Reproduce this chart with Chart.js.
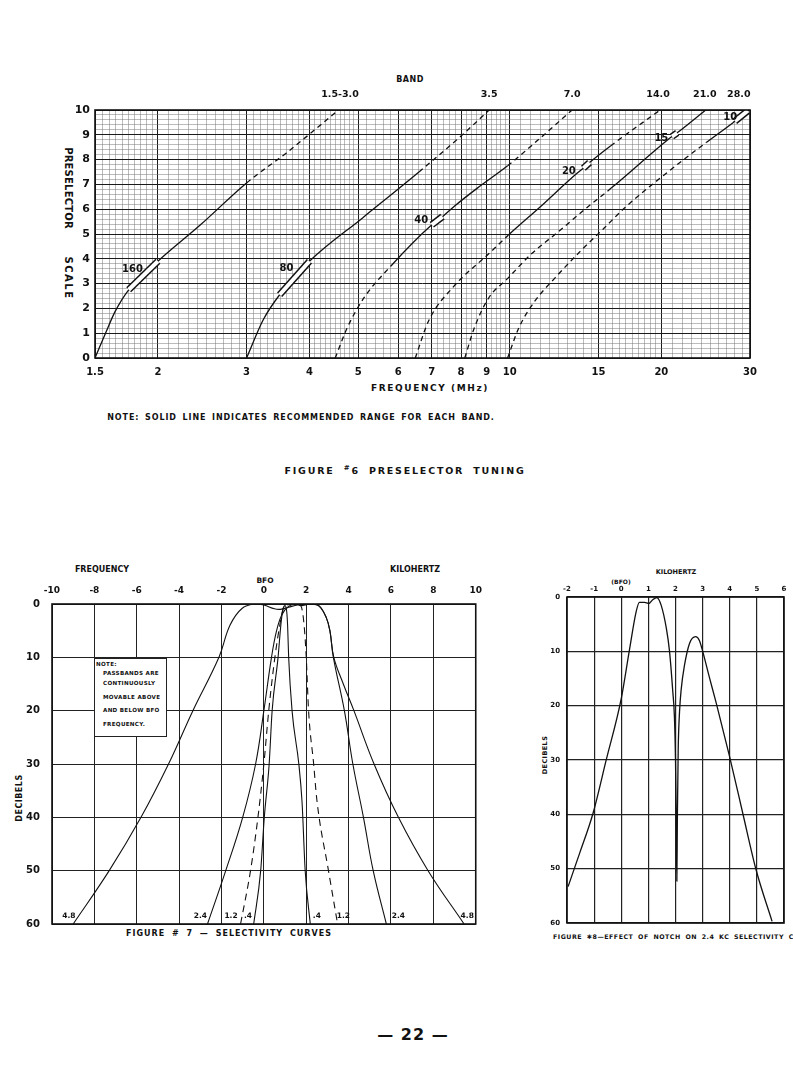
<!DOCTYPE html>
<html>
<head>
<meta charset="utf-8">
<script src="https://cdn.jsdelivr.net/npm/chart.js@4.4.0/dist/chart.umd.min.js"></script>
<style>
  html, body { margin: 0; padding: 0; background: #fff; }
  body { width: 793px; height: 1083px; position: relative; overflow: hidden;
         font-family: 'DejaVu Sans', sans-serif; font-weight: bold; color: #111; }
  canvas { position: absolute; }
  .t { position: absolute; white-space: nowrap; transform: translate(-50%, -50%); line-height: 1; }
  .v { position: absolute; white-space: nowrap; writing-mode: vertical-rl; transform: translate(-50%, -50%); line-height: 1; }
  .up { position: absolute; white-space: nowrap; transform: translate(-50%, -50%) rotate(-90deg); line-height: 1; }
  .note { position: absolute; left: 94px; top: 658px; width: 73px; height: 79px; box-sizing: border-box;
          border: 1px solid #222; background: #fff; font-size: 5.6px; }
  .note div { position: absolute; white-space: nowrap; letter-spacing: 0.3px; }
</style>
</head>
<body>

<div class="t" style="left:410px; top:80px; font-size:8px; letter-spacing:0.5px;">BAND</div>
<div class="v" style="left:68px; top:188px; font-size:10px; letter-spacing:0.2px;">PRESELECTOR</div>
<div class="v" style="left:68px; top:278px; font-size:10px; letter-spacing:1.5px;">SCALE</div>
<div class="t" style="left:430px; top:388px; font-size:9px; letter-spacing:1.6px;">FREQUENCY (MHz)</div>
<div class="t" style="left:301px; top:418px; font-size:8px; letter-spacing:0.9px; word-spacing:2px;">NOTE: SOLID LINE INDICATES RECOMMENDED RANGE FOR EACH BAND.</div>
<div class="t" style="left:405px; top:470px; font-size:9.5px; letter-spacing:1.8px; word-spacing:4px;">FIGURE <sup style="font-size:7px;">#</sup>6 PRESELECTOR TUNING</div>
<canvas id="chartPreselector" width="793" height="350" style="left:0; top:60px;"></canvas>

<div class="t" style="left:102px; top:570px; font-size:8px;">FREQUENCY</div>
<div class="t" style="left:415px; top:570px; font-size:8px;">KILOHERTZ</div>
<div class="t" style="left:265px; top:581px; font-size:7.5px;">BFO</div>
<div class="up" style="left:20px; top:798px; font-size:8px; letter-spacing:0.5px;">DECIBELS</div>
<div class="t" style="left:229px; top:934px; font-size:8px; letter-spacing:1px; word-spacing:3px;">FIGURE # 7 &mdash; SELECTIVITY CURVES</div>
<canvas id="chartSelectividade" width="490" height="390" style="left:0; top:560px;"></canvas>
<div class="note">
  <div style="left:1px; top:2px;">NOTE:</div>
  <div style="left:8px; top:11px;">PASSBANDS ARE</div>
  <div style="left:8px; top:21px;">CONTINUOUSLY</div>
  <div style="left:8px; top:35px;">MOVABLE ABOVE</div>
  <div style="left:8px; top:48px;">AND BELOW BFO</div>
  <div style="left:8px; top:62px;">FREQUENCY.</div>
</div>

<div class="t" style="left:676px; top:572px; font-size:6.5px;">KILOHERTZ</div>
<div class="t" style="left:621px; top:582px; font-size:6px;">(BFO)</div>
<div class="up" style="left:545px; top:755px; font-size:6.5px; letter-spacing:0.4px;">DECIBELS</div>
<div style="position:absolute; left:553px; top:934px; white-space:nowrap; font-size:6.3px; letter-spacing:0.5px; word-spacing:2px; line-height:1;">FIGURE &#x2731;8&mdash;EFFECT OF NOTCH ON 2.4 KC SELECTIVITY CURVE</div>
<canvas id="chartNotch" width="303" height="390" style="left:490px; top:560px;"></canvas>

<div class="t" style="left:413px; top:1035px; font-size:16px; letter-spacing:1px;">&mdash; 22 &mdash;</div>

<script>
// ---- figure 6: preselector tuning (frequency MHz / scale) ----
var band160F = [1.5, 1.58, 1.645, 1.75, 2.0, 2.43, 3.0, 3.6, 4.57];
var band160S = [0, 1.08, 1.88, 2.75, 3.9, 5.37, 7.06, 8.27, 10];
var band80F = [3.0, 3.24, 3.49, 4.0, 5.1, 6.6, 8.0, 9.1];
var band80S = [0, 1.55, 2.55, 3.9, 5.65, 7.5, 8.95, 10];
var band40F = [4.5, 4.75, 5.13, 5.8, 7.0, 7.35, 7.74, 8.62, 9.9, 11.1, 13.3];
var band40S = [0, 1.2, 2.42, 3.7, 5.37, 5.7, 6.1, 6.85, 7.75, 8.6, 10];
var band20F = [6.49, 6.9, 7.74, 9.08, 9.93, 11.5, 13.6, 14.0, 14.4, 15.85, 19.9];
var band20S = [0, 1.5, 2.89, 4.2, 4.95, 6.1, 7.45, 7.65, 7.88, 8.55, 10];
var band15F = [8.14, 8.5, 9.08, 9.93, 11.0, 12.5, 14.2, 15.9, 20.6, 21.0, 21.5, 24.5];
var band15S = [0, 1.21, 2.42, 3.23, 4.17, 5.1, 6.05, 6.85, 8.8, 8.93, 9.08, 10];
var band10F = [9.9, 10.42, 11.2, 12.3, 13.8, 15.4, 16.9, 20.6, 24.6, 27.8, 28.0, 29.7, 29.8];
var band10S = [0, 1.21, 2.28, 3.23, 4.3, 5.24, 6.05, 7.5, 8.7, 9.5, 9.55, 9.97, 10];

// solid (recommended) part of each curve, the rest is dashed
var solidFrom = [1.5, 3.0, 5.8, 9.93, 15.9, 24.6];
var solidTo = [3.0, 6.6, 9.9, 15.85, 24.5, 29.8];

// band marker boxes: [f1, s1, f2, s2]
var bandBoxes = [
  [1.75, 2.75, 2.0, 3.9],
  [3.49, 2.55, 4.0, 3.9],
  [7.0, 5.37, 7.35, 5.7],
  [14.0, 7.65, 14.4, 7.88],
  [21.0, 8.93, 21.5, 9.08],
  [28.0, 9.55, 29.7, 9.97]
];

var bandTopFreq = [4.6, 9.1, 13.3, 19.7, 24.4, 28.5];
var bandTopLabel = ['1.5-3.0', '3.5', '7.0', '14.0', '21.0', '28.0'];
var majorFreq = [1.5, 2, 3, 4, 5, 6, 7, 8, 9, 10, 15, 20, 30];
var gridSteps = [[1.5, 2, 0.05], [2, 5, 0.1], [5, 10, 0.2], [10, 20, 0.5], [20, 30, 1]];

// ---- figure 7: selectivity curves (kHz / dB) ----
var sel48X = [-9.0, -7.3, -5.8, -4.5, -3.35, -2.12, -1.6, -1.02, -0.4, 0, 0.5, 0.78, 1.17, 1.6, 2.2, 2.6, 2.95, 3.12, 3.3, 3.75, 4.25, 5.2, 6.35, 7.75, 9.45];
var sel48Y = [60, 50, 40, 30, 20, 10, 4.0, 0.8, 0, 0.2, 0.9, 1.0, 0.6, 0.2, 0.1, 0.3, 2.6, 5.1, 10, 15, 20, 30, 40, 50, 60];
var sel24X = [-2.66, -1.8, -1.0, -0.39, 0.0, 0.36, 0.6, 0.85, 1.15, 1.5, 1.8, 2.2, 2.6, 2.95, 3.12, 3.28, 3.8, 4.2, 4.7, 5.16, 5.78];
var sel24Y = [60, 50, 40, 30, 20, 10, 5, 2, 0.5, 0, 0.3, 0, 0.4, 2.6, 5.1, 10, 20, 30, 40, 50, 60];
var sel12X = [-1.1, -0.63, -0.28, 0.0, 0.23, 0.52, 0.75, 0.9, 1.05, 1.4, 1.75, 1.9, 2.0, 2.11, 2.35, 2.5, 3.05, 3.48];
var sel12Y = [60, 50, 40, 30, 20, 10, 4, 1, 0.3, 0, 0.4, 4, 10, 20, 30, 36.7, 50, 60];
var sel04X = [-0.48, -0.15, 0.02, 0.25, 0.39, 0.67, 0.8, 0.9, 1.0, 1.08, 1.12, 1.17, 1.33, 1.65, 1.8, 1.95, 2.19];
var sel04Y = [60, 50, 40, 30, 20, 10, 4, 1, 0.3, 1.5, 4, 10, 20, 30, 37, 50, 60];

// ---- figure 8: effect of notch on 2.4 kc selectivity ----
var notchX = [-1.96, -1.53, -1.04, -0.55, 0, 0.31, 0.55, 0.67, 0.86, 1.02, 1.16, 1.31, 1.47, 1.66, 1.78, 1.9, 1.96, 2.0, 2.03, 2.05, 2.07, 2.1, 2.15, 2.21, 2.33, 2.52, 2.74, 2.88, 2.98, 3.25, 3.5, 3.99, 4.48, 4.97, 5.56];
var notchY = [53.3, 47.1, 39.8, 29.9, 18.7, 9.5, 2.7, 1.0, 1.0, 1.2, 0.5, 0.1, 1.5, 5.7, 10, 17.4, 22, 30, 42, 52.3, 40, 28, 21, 17, 12.6, 8.5, 7.3, 8.0, 9.6, 14.8, 19.5, 29.3, 39.8, 50.2, 59.7];


Chart.defaults.font.family = "'DejaVu Sans', sans-serif";
Chart.defaults.font.weight = 'bold';
Chart.defaults.color = '#111';

function pts(xs, ys) {
  return xs.map(function (x, i) { return { x: x, y: ys[i] }; });
}

function dashOutside(lo, hi) {
  return function (c) {
    var inside = c.p0.parsed.x >= lo - 1e-6 && c.p1.parsed.x <= hi + 1e-6;
    return inside ? undefined : [5, 4];
  };
}

// frame round the plot plus some text put at data positions
function framePlugin(id, labels, font) {
  return {
    id: id,
    afterDatasetsDraw: function (chart) {
      var ctx = chart.ctx, a = chart.chartArea;
      ctx.save();
      ctx.strokeStyle = '#111';
      ctx.lineWidth = 1.6;
      ctx.strokeRect(a.left, a.top, a.right - a.left, a.bottom - a.top);
      ctx.fillStyle = '#111';
      ctx.font = font;
      ctx.textAlign = 'center';
      ctx.textBaseline = 'middle';
      labels.forEach(function (l) {
        ctx.fillText(l.t, chart.scales.x.getPixelForValue(l.x), chart.scales.y.getPixelForValue(l.y));
      });
      ctx.restore();
    }
  };
}

var gridFreq = [];
gridSteps.forEach(function (g) {
  for (var k = 0; g[0] + k * g[2] <= g[1] + 1e-9; k++) {
    var v = Math.round((g[0] + k * g[2]) * 1000) / 1000;
    if (gridFreq.indexOf(v) < 0) gridFreq.push(v);
  }
});
var gridScale = [];
for (var k = 0; k <= 50; k++) gridScale.push(k * 2 / 10);

var curveF = [band160F, band80F, band40F, band20F, band15F, band10F];
var curveS = [band160S, band80S, band40S, band20S, band15S, band10S];

var datasetsPreselector = [];
curveF.forEach(function (f, i) {
  datasetsPreselector.push({
    data: pts(f, curveS[i]),
    borderColor: '#111',
    borderWidth: 1.3,
    pointRadius: 0,
    cubicInterpolationMode: 'monotone',
    segment: { borderDash: dashOutside(solidFrom[i], solidTo[i]) },
    order: 3
  });
});
bandBoxes.forEach(function (b) {
  var d = [{ x: b[0], y: b[1] }, { x: b[2], y: b[3] }];
  datasetsPreselector.push({ data: d, borderColor: '#111', borderWidth: 7, pointRadius: 0, borderCapStyle: 'butt', order: 2 });
  datasetsPreselector.push({ data: d, borderColor: '#fff', borderWidth: 4, pointRadius: 0, borderCapStyle: 'butt', order: 1 });
});

var bandLabels = [
  { t: '160', x: 1.78, y: 3.56 },
  { t: '80', x: 3.6, y: 3.63 },
  { t: '40', x: 6.67, y: 5.54 },
  { t: '20', x: 13.1, y: 7.53 },
  { t: '15', x: 20.0, y: 8.87 },
  { t: '10', x: 27.4, y: 9.7 }
];

var configPreselector = {
  type: 'line',
  data: { datasets: datasetsPreselector },
  options: {
    responsive: false,
    animation: false,
    parsing: false,
    layout: { padding: { left: 0, right: 43, top: 0, bottom: 0 } },
    plugins: { legend: { display: false }, tooltip: { enabled: false } },
    scales: {
      x: {
        type: 'logarithmic',
        min: 1.5,
        max: 30,
        afterBuildTicks: function (s) { s.ticks = gridFreq.map(function (v) { return { value: v }; }); },
        afterFit: function (s) { s.height = 52; },
        ticks: {
          autoSkip: false, maxRotation: 0, padding: 8,
          font: { size: 10, weight: 'bold' },
          callback: function (v) { return majorFreq.indexOf(v) >= 0 ? String(v) : ''; }
        },
        grid: {
          drawTicks: false,
          color: function (c) { return majorFreq.indexOf(c.tick.value) >= 0 ? '#1a1a1a' : '#777'; },
          lineWidth: function (c) { return majorFreq.indexOf(c.tick.value) >= 0 ? 1 : 0.5; }
        },
        border: { display: false }
      },
      xTop: {
        type: 'logarithmic',
        position: 'top',
        min: 1.5,
        max: 30,
        afterBuildTicks: function (s) { s.ticks = bandTopFreq.map(function (v) { return { value: v }; }); },
        afterFit: function (s) { s.height = 50; },
        ticks: {
          autoSkip: false, maxRotation: 0, padding: 2,
          font: { size: 9.5, weight: 'bold' },
          callback: function (v, i) { return bandTopLabel[i]; }
        },
        grid: { display: false },
        border: { display: false }
      },
      y: {
        min: 0,
        max: 10,
        afterBuildTicks: function (s) { s.ticks = gridScale.map(function (v) { return { value: v }; }); },
        afterFit: function (s) { s.width = 95; },
        ticks: {
          autoSkip: false, padding: 5,
          font: { size: 11, weight: 'bold' },
          callback: function (v) { return Number.isInteger(v) ? String(v) : ''; }
        },
        grid: {
          drawTicks: false,
          color: function (c) { return Number.isInteger(c.tick.value) ? '#1a1a1a' : '#777'; },
          lineWidth: function (c) { return Number.isInteger(c.tick.value) ? 1 : 0.5; }
        },
        border: { display: false }
      }
    }
  },
  plugins: [framePlugin('framePreselector', bandLabels, "bold 10px 'DejaVu Sans'")]
};

var chartPreselector = new Chart(document.getElementById('chartPreselector').getContext('2d'), configPreselector);


var selLabels = [
  { t: '4.8', x: -9.2, y: 58.6 },
  { t: '2.4', x: -3.0, y: 58.6 },
  { t: '1.2', x: -1.55, y: 58.6 },
  { t: '.4', x: -0.75, y: 58.6 },
  { t: '.4', x: 2.5, y: 58.6 },
  { t: '1.2', x: 3.75, y: 58.6 },
  { t: '2.4', x: 6.35, y: 58.6 },
  { t: '4.8', x: 9.6, y: 58.6 }
];

// wide curves get a plain bezier, narrow ones keep monotone so the top does not overshoot
function selDataset(xs, ys, dash, smooth) {
  var ds = {
    data: pts(xs, ys),
    borderColor: '#111',
    borderWidth: 1.1,
    borderDash: dash,
    pointRadius: 0
  };
  if (smooth) ds.tension = 0.4;
  else ds.cubicInterpolationMode = 'monotone';
  return ds;
}

var configSelectividade = {
  type: 'line',
  data: {
    datasets: [
      selDataset(sel48X, sel48Y, [], true),
      selDataset(sel24X, sel24Y, [], true),
      selDataset(sel12X, sel12Y, [7, 5], false),
      selDataset(sel04X, sel04Y, [], false)
    ]
  },
  options: {
    responsive: false,
    animation: false,
    parsing: false,
    layout: { padding: { left: 0, right: 12, top: 0, bottom: 26 } },
    plugins: { legend: { display: false }, tooltip: { enabled: false } },
    scales: {
      x: {
        type: 'linear',
        position: 'top',
        min: -10,
        max: 10,
        afterFit: function (s) { s.height = 44; },
        ticks: { stepSize: 2, padding: 8, maxRotation: 0, font: { size: 9, weight: 'bold' } },
        grid: { drawTicks: false, color: '#222', lineWidth: 1 },
        border: { display: false }
      },
      y: {
        reverse: true,
        min: 0,
        max: 60,
        afterFit: function (s) { s.width = 52; },
        ticks: { stepSize: 10, padding: 12, font: { size: 10, weight: 'bold' } },
        grid: { drawTicks: false, color: '#222', lineWidth: 1 },
        border: { display: false }
      }
    }
  },
  plugins: [framePlugin('frameSelectividade', selLabels, "bold 7.5px 'DejaVu Sans'")]
};

var chartSelectividade = new Chart(document.getElementById('chartSelectividade').getContext('2d'), configSelectividade);


var configNotch = {
  type: 'line',
  data: {
    datasets: [{
      data: pts(notchX, notchY),
      borderColor: '#111',
      borderWidth: 1.3,
      pointRadius: 0,
      cubicInterpolationMode: 'monotone'
    }]
  },
  options: {
    responsive: false,
    animation: false,
    parsing: false,
    layout: { padding: { left: 0, right: 9, top: 0, bottom: 27 } },
    plugins: { legend: { display: false }, tooltip: { enabled: false } },
    scales: {
      x: {
        type: 'linear',
        position: 'top',
        min: -2,
        max: 6,
        afterFit: function (s) { s.height = 37; },
        ticks: { stepSize: 1, padding: 4, maxRotation: 0, font: { size: 7, weight: 'bold' } },
        grid: { drawTicks: false, color: '#222', lineWidth: 1.2 },
        border: { display: false }
      },
      y: {
        reverse: true,
        min: 0,
        max: 60,
        afterFit: function (s) { s.width = 77; },
        ticks: { stepSize: 10, padding: 7, font: { size: 7, weight: 'bold' } },
        grid: { drawTicks: false, color: '#222', lineWidth: 1.2 },
        border: { display: false }
      }
    }
  },
  plugins: [framePlugin('frameNotch', [], "bold 7px 'DejaVu Sans'")]
};

var chartNotch = new Chart(document.getElementById('chartNotch').getContext('2d'), configNotch);
</script>
</body>
</html>
